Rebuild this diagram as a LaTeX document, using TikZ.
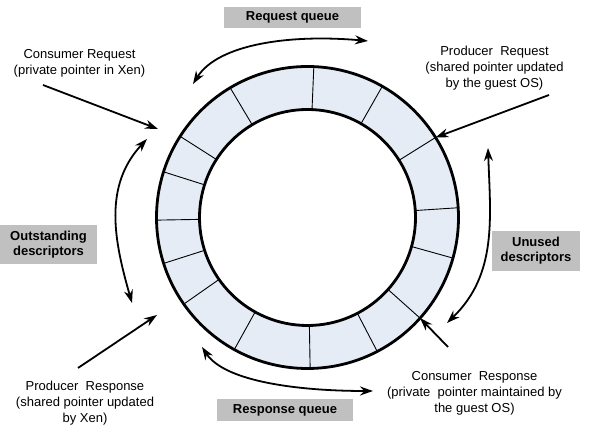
\documentclass[tikz,border=0pt]{standalone}
\usepackage{fontspec}
\setmainfont{Liberation Sans}
\usepackage{tikz}
\usetikzlibrary{arrows,arrows.meta,shapes,positioning}
\usetikzlibrary{calc}
\definecolor{ringblue}{RGB}{230,236,246}
\definecolor{boxgray}{RGB}{192,192,192}
\tikzstyle{arrow}  = [line width=1.8pt,->,>={Stealth[length=13pt,width=9pt]}]
\tikzstyle{darrow} = [line width=1.8pt,<->,>={Stealth[length=13pt,width=9pt]}]
\tikzstyle{qbox}   = [fill=boxgray,inner sep=0pt,align=center,font=\fontsize{13}{15}\selectfont\bfseries]
\tikzstyle{note}   = [inner sep=0pt,align=center,font=\fontsize{13}{16}\selectfont]

\begin{document}
\begin{tikzpicture}[x=1pt,y=1pt]
        \useasboundingbox (0,0) rectangle (590,444);
        \coordinate (C) at (307.5,226.5);
        \fill[ringblue, even odd rule] (C) circle (151pt) (C) circle (108pt);
        \foreach \a in {3.7,32,60.3,87.6,120.8,147.5,162.4,181,197.7,215,241,271,297.5,318.2,344.4}
        {
            \draw[line width=0.9pt] ($(C)+(\a:108pt)$) -- ($(C)+(\a:151pt)$);
        }
        \draw[line width=2.8pt] (C) circle (151pt);
        \draw[line width=2.8pt] (C) circle (108pt);
        \node[note] (T0) at (79.5,381) {Consumer Request\\(private pointer in Xen)};
        \node[note] (T1) at (494.5,376) {Producer\ \ Request\\(shared pointer updated\\by the guest OS)};
        \node[note] (T2) at (85,41) {Producer\ \ Response\\(shared pointer updated\\by Xen)};
        \node[note] (T3) at (474.5,50.5) {Consumer\ \ Response\\(private\ \ pointer maintained by\\the guest OS)};
        \node[qbox, minimum width=137pt, minimum height=21pt] (B0) at (292.5,426.5) {Request queue};
        \node[qbox, minimum width=97pt, minimum height=39pt] (B1) at (48.5,199.5) {Outstanding\\descriptors};
        \node[qbox, minimum width=88pt, minimum height=40pt] (B2) at (536,193) {Unused\\descriptors};
        \node[qbox, minimum width=136pt, minimum height=22pt] (B3) at (285,34) {Response queue};
        \coordinate (E0) at (158,315);
        \coordinate (E1) at ($(C)+(32:151pt)$);
        \coordinate (E2) at (157,129);
        \coordinate (E3) at ($(C)+(318.2:151pt)$);
        \draw[arrow] ([shift={(-36.5,-22)}]T0.center) -- (E0);
        \draw[arrow] ([shift={(54.5,-27)}]T1.center) -- (E1);
        \draw[arrow] ([shift={(-7,35)}]T2.center) -- (E2);
        \draw[arrow] ([shift={(-26.5,46.5)}]T3.center) -- (E3);
        \coordinate (Q0) at (193,360);
        \coordinate (Q1) at (368,403);
        \coordinate (Q2) at (147,305);
        \coordinate (Q3) at (132,141);
        \coordinate (Q4) at (488,296);
        \coordinate (Q5) at (447,121);
        \coordinate (Q6) at (202,97);
        \coordinate (Q7) at (373,53);
        \draw[darrow] (Q0) .. controls (218,400) and (290,410) .. (Q1);
        \draw[darrow] (Q2) to[out=227,in=106] (Q3);
        \draw[darrow] (Q4) to[out=272,in=44] (Q5);
        \draw[darrow] (Q6) .. controls (225,62) and (300,53) .. (Q7);
\end{tikzpicture}
\end{document}
